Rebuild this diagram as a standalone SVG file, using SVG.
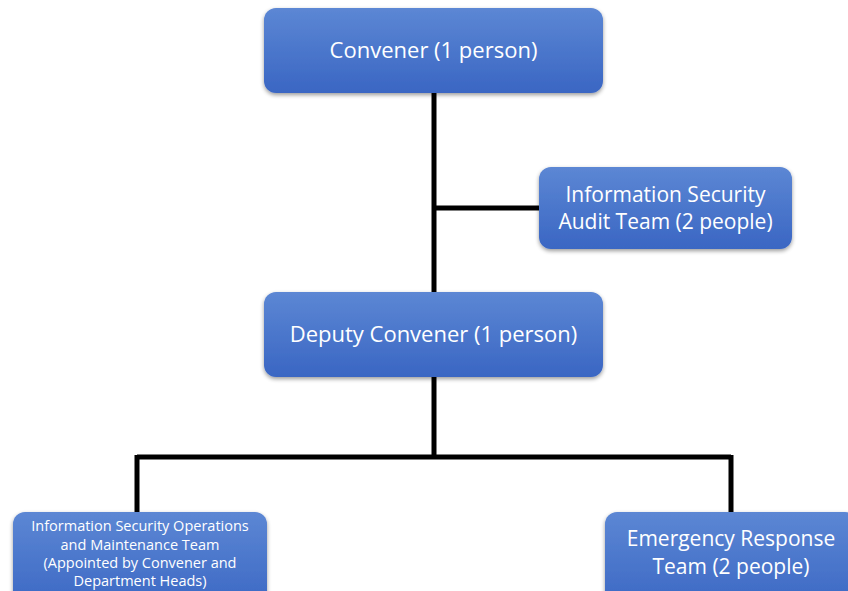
<svg xmlns="http://www.w3.org/2000/svg" width="848" height="591" viewBox="0 0 848 591">
<defs>
<linearGradient id="g" x1="0" y1="0" x2="0" y2="1">
<stop offset="0" stop-color="#5C87D4"/>
<stop offset="1" stop-color="#3A66C3"/>
</linearGradient>
<filter id="sh" x="-10%" y="-10%" width="120%" height="130%">
<feGaussianBlur in="SourceAlpha" stdDeviation="2"/>
<feOffset dx="0" dy="2" result="b"/>
<feComponentTransfer><feFuncA type="linear" slope="0.4"/></feComponentTransfer>
<feMerge><feMergeNode/><feMergeNode in="SourceGraphic"/></feMerge>
</filter>
</defs>
<style>
.box{fill:url(#g);filter:url(#sh)}
.t{font-family:"Open Sans","Noto Sans",sans-serif;fill:#fff;text-anchor:middle}
.l{font-size:22px}
.m{font-size:21px}
.s{font-size:14.5px}
.c{stroke:#000;stroke-width:5;fill:none}
</style>
<rect width="848" height="591" fill="#fff"/>
<g id="connectors">
<path class="c" d="M434 92V292M434 208H540M434 376V457M137 457H731M137 455V513M731 455V513"/>
</g>
<g id="convener">
<rect class="box" x="264" y="8" width="339" height="85" rx="12"/>
<text class="t l" x="433.5" y="58">Convener (1 person)</text>
</g>
<g id="audit">
<rect class="box" x="539" y="167" width="253" height="82" rx="12"/>
<text class="t m" x="665.5" y="202">Information Security</text>
<text class="t m" x="665.5" y="229">Audit Team (2 people)</text>
</g>
<g id="deputy">
<rect class="box" x="264" y="292" width="339" height="85" rx="12"/>
<text class="t l" x="433.5" y="342">Deputy Convener (1 person)</text>
</g>
<g id="ops">
<rect class="box" x="13" y="512" width="254" height="100" rx="12"/>
<text class="t s" x="140" y="531">Information Security Operations</text>
<text class="t s" x="140" y="550">and Maintenance Team</text>
<text class="t s" x="140" y="568">(Appointed by Convener and</text>
<text class="t s" x="140" y="586">Department Heads)</text>
</g>
<g id="emergency">
<rect class="box" x="605" y="512" width="252" height="100" rx="12"/>
<text class="t m" x="731" y="546">Emergency Response</text>
<text class="t m" x="731" y="574">Team (2 people)</text>
</g>
</svg>
